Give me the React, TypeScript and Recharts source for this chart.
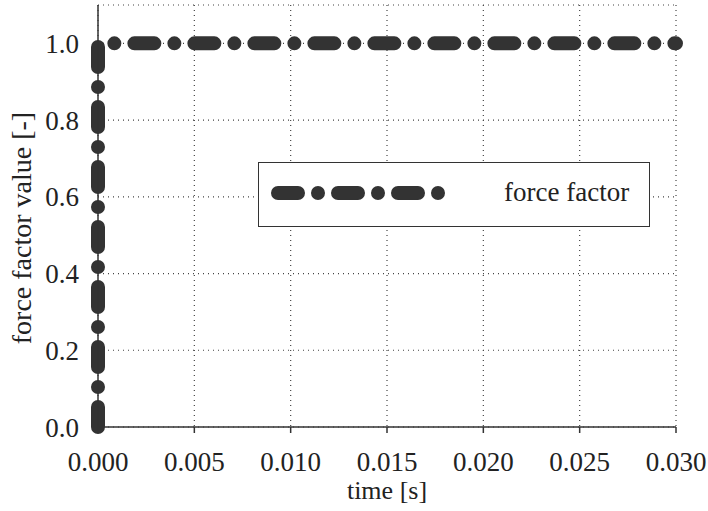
import React from "react";
import { LineChart, Line, XAxis, YAxis, CartesianGrid } from "recharts";

const timeValues = [0, 0, 0.03];
const forceFactorValues = [0, 1, 1];
const xTicks = [0, 0.005, 0.01, 0.015, 0.02, 0.025, 0.03];
const yTicks = [0, 0.2, 0.4, 0.6, 0.8, 1.0];
const seriesName = "force factor";

const data = timeValues.map((t, i) => ({ t, f: forceFactorValues[i] }));

const FONT = "'Liberation Serif', 'DejaVu Serif', serif";
const INK = "#222";
const LINE = "#333";
const DASH = "20 20 0 20";

const LegendBox = () => (
  <div
    style={{
      position: "absolute",
      left: 258,
      top: 162,
      width: 392,
      height: 65,
      boxSizing: "border-box",
      border: `1.5px solid ${LINE}`,
      background: "#fff",
      fontFamily: FONT,
    }}
  >
    <svg width={200} height={62} style={{ position: "absolute", left: 0, top: 0 }}>
      <line
        x1={19}
        y1={30}
        x2={181}
        y2={30}
        stroke={LINE}
        strokeWidth={14}
        strokeLinecap="round"
        strokeDasharray={DASH}
      />
    </svg>
    <span
      style={{
        position: "absolute",
        left: 245,
        top: 13,
        fontSize: 27,
        lineHeight: "32px",
        color: INK,
        whiteSpace: "nowrap",
      }}
    >
      {seriesName}
    </span>
  </div>
);

export default function App() {
  return (
    <div style={{ position: "absolute", left: 0, top: 0, width: 708, height: 511, background: "#fff" }}>
      <LineChart
        width={708}
        height={511}
        data={data}
        margin={{ top: 5, right: 32, bottom: 0, left: 0 }}
      >
        <CartesianGrid stroke="#444" strokeDasharray="1 4" strokeWidth={1.2} />
        <XAxis
          dataKey="t"
          type="number"
          domain={[0, 0.03]}
          ticks={xTicks}
          tickFormatter={(v: number) => v.toFixed(3)}
          height={84}
          tickSize={6}
          tickMargin={19}
          axisLine={{ stroke: LINE, strokeWidth: 1.5 }}
          tickLine={{ stroke: LINE, strokeWidth: 1.5 }}
          tick={{ fontFamily: FONT, fontSize: 27, fill: INK }}
          label={({ viewBox }: any) => (
            <text
              x={viewBox.x + viewBox.width / 2}
              y={viewBox.y + 72}
              textAnchor="middle"
              fontFamily={FONT}
              fontSize={26}
              fill={INK}
            >
              time [s]
            </text>
          )}
        />
        <XAxis
          xAxisId="top"
          orientation="top"
          dataKey="t"
          type="number"
          domain={[0, 0.03]}
          height={0}
          tick={false}
          tickLine={false}
          axisLine={{ stroke: LINE, strokeWidth: 1.5 }}
        />
        <YAxis
          type="number"
          domain={[0, 1.1]}
          ticks={yTicks}
          tickFormatter={(v: number) => v.toFixed(1)}
          width={98}
          tickSize={0}
          tickMargin={19}
          axisLine={{ stroke: LINE, strokeWidth: 1.5 }}
          tickLine={false}
          tick={{ fontFamily: FONT, fontSize: 27, fill: INK }}
          label={({ viewBox }: any) => {
            const cx = 31;
            const cy = viewBox.y + viewBox.height / 2 + 12;
            return (
              <text
                x={cx}
                y={cy}
                transform={`rotate(-90 ${cx} ${cy})`}
                textAnchor="middle"
                fontFamily={FONT}
                fontSize={28}
                fill={INK}
              >
                force factor value [-]
              </text>
            );
          }}
        />
        <YAxis
          yAxisId="right"
          orientation="right"
          type="number"
          domain={[0, 1.1]}
          width={0}
          tick={false}
          tickLine={false}
          axisLine={{ stroke: LINE, strokeWidth: 1.5 }}
        />
        <Line
          type="linear"
          dataKey="f"
          name={seriesName}
          stroke={LINE}
          strokeWidth={14}
          strokeLinecap="round"
          strokeLinejoin="round"
          strokeDasharray={DASH}
          dot={false}
          activeDot={false}
          isAnimationActive={false}
        />
      </LineChart>
      <LegendBox />
    </div>
  );
}
